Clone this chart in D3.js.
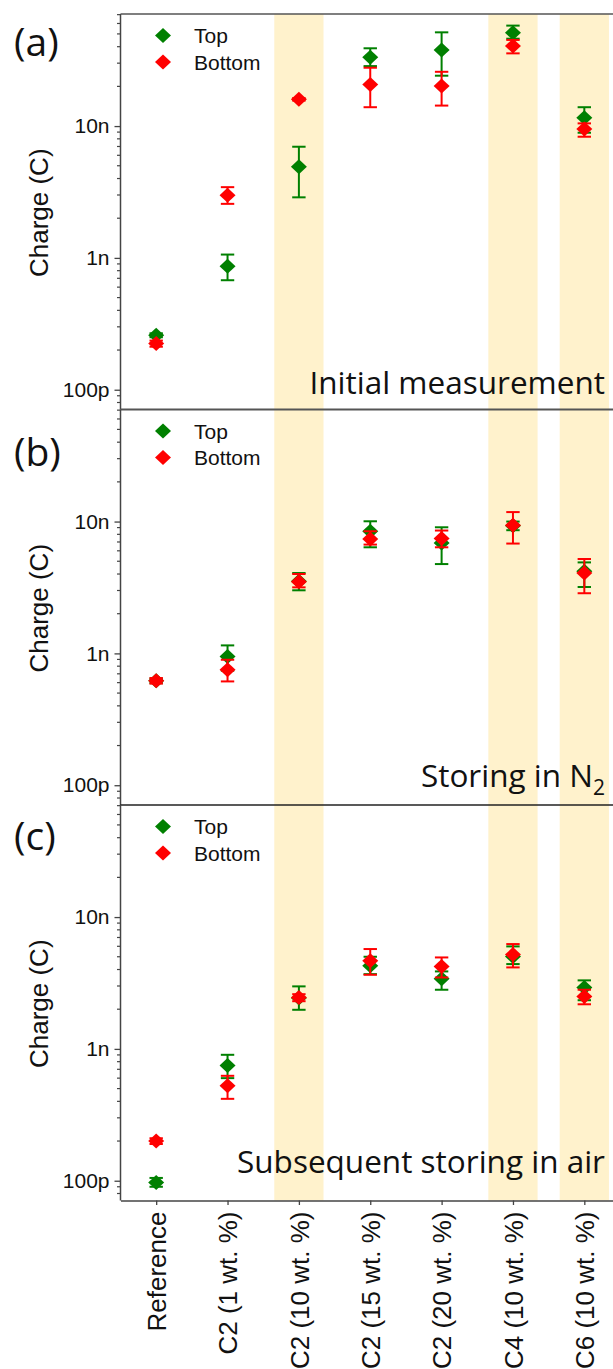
<!DOCTYPE html>
<html>
<head>
<meta charset="utf-8">
<script src="https://cdn.jsdelivr.net/npm/d3@7"></script>
<style>
  body { margin: 0; background: #fff; }
  svg { display: block; }
</style>
</head>
<body>
<div id="chart-area"></div>
<script>
var categories = ["Reference", "C2 (1 wt. %)", "C2 (10 wt. %)", "C2 (15 wt. %)", "C2 (20 wt. %)", "C4 (10 wt. %)", "C6 (10 wt. %)"];
var highlighted = ["C2 (10 wt. %)", "C4 (10 wt. %)", "C6 (10 wt. %)"];
var yTickValues = [1e-10, 1e-9, 1e-8];
var yTickLabels = ["100p", "1n", "10n"];
var seriesNames = ["Top", "Bottom"];
var panelLetters = ["(a)", "(b)", "(c)"];

// [value, lower, upper] per category, in coulomb
var initialTop = [[2.59e-10, 2.5e-10, 2.68e-10], [8.65e-10, 6.77e-10, 1.06e-9], [4.91e-9, 2.88e-9, 6.97e-9], [3.32e-8, 2.85e-8, 3.89e-8], [3.78e-8, 2.41e-8, 5.14e-8], [5.11e-8, 4.6e-8, 5.78e-8], [1.156e-8, 8.9e-9, 1.39e-8]];
var initialBottom = [[2.24e-10, 2.12e-10, 2.36e-10], [2.99e-9, 2.57e-9, 3.44e-9], [1.595e-8, 1.56e-8, 1.63e-8], [2.07e-8, 1.39e-8, 2.77e-8], [2.01e-8, 1.43e-8, 2.58e-8], [4.05e-8, 3.56e-8, 4.5e-8], [9.49e-9, 8.3e-9, 1.048e-8]];
var n2Top = [[6.21e-10, 5.95e-10, 6.45e-10], [9.48e-10, 7.39e-10, 1.15e-9], [3.52e-9, 3.01e-9, 4.07e-9], [8.44e-9, 6.38e-9, 1.005e-8], [6.88e-9, 4.76e-9, 9.05e-9], [9.3e-9, 8.6e-9, 1.0e-8], [4.2e-9, 3.19e-9, 4.9e-9]];
var n2Bottom = [[6.21e-10, 5.9e-10, 6.5e-10], [7.52e-10, 6.13e-10, 8.95e-10], [3.5e-9, 3.17e-9, 4.0e-9], [7.38e-9, 6.69e-9, 8.44e-9], [7.43e-9, 6.38e-9, 8.55e-9], [9.38e-9, 6.81e-9, 1.18e-8], [4.07e-9, 2.86e-9, 5.2e-9]];
var airTop = [[9.68e-11, 9.0e-11, 1.05e-10], [7.48e-10, 6.0e-10, 9.02e-10], [2.43e-9, 1.98e-9, 2.98e-9], [4.28e-9, 3.69e-9, 5.0e-9], [3.41e-9, 2.81e-9, 3.87e-9], [5.03e-9, 4.4e-9, 5.99e-9], [2.92e-9, 2.34e-9, 3.31e-9]];
var airBottom = [[2.0e-10, 1.9e-10, 2.1e-10], [5.25e-10, 4.18e-10, 6.25e-10], [2.45e-9, 2.3e-9, 2.6e-9], [4.67e-9, 3.65e-9, 5.72e-9], [4.22e-9, 3.48e-9, 4.94e-9], [5.19e-9, 4.15e-9, 6.24e-9], [2.5e-9, 2.18e-9, 2.81e-9]];

var panels = [
    { top: initialTop, bottom: initialBottom, title: "Initial measurement" },
    { top: n2Top, bottom: n2Bottom, title: "Storing in N", sub: "2" },
    { top: airTop, bottom: airBottom, title: "Subsequent storing in air" }
];

var w = 613, h = 1369;
var left = 120.5, right = 620;
var panelTops = [14, 409.5, 805];
var panelH = 395.5;
var colors = { Top: "#008000", Bottom: "#ff0000" };
var axisColor = "#444";

var svg = d3.select("#chart-area")
    .append("svg")
    .attr("width", w)
    .attr("height", h);

var xScale = d3.scaleLinear()
    .domain([-0.5, 6.5])
    .range([left, right]);

var diamond = "M0,-7.5L8,0L0,7.5L-8,0Z";

// highlight bands through all three panels
svg.selectAll("rect.band")
    .data(highlighted)
    .enter()
    .append("rect")
    .attr("class", "band")
    .attr("x", function (d) { return xScale(categories.indexOf(d) - 0.345); })
    .attr("width", function () { return xScale(0.345) - xScale(-0.345); })
    .attr("y", panelTops[0])
    .attr("height", panelTops[2] + panelH - panelTops[0])
    .attr("fill", "#fff2cc");

panels.forEach(function (p, i) {
    var y0 = panelTops[i];
    var yScale = d3.scaleLog()
        .domain([7.08e-11, 7.08e-8])
        .range([y0 + panelH, y0]);

    var g = svg.append("g");

    // horizontal frame lines
    g.append("line")
        .attr("x1", left).attr("x2", w)
        .attr("y1", y0).attr("y2", y0)
        .attr("stroke", i == 2 ? "#222" : "#555")
        .attr("stroke-width", i == 0 ? 1.5 : (i == 1 ? 2.2 : 1.3));

    // minor ticks
    var minor = yScale.ticks().filter(function (t) { return yTickValues.indexOf(t) < 0; });
    g.selectAll("line.minor")
        .data(minor)
        .enter()
        .append("line")
        .attr("x1", left - 3.5).attr("x2", left)
        .attr("y1", function (d) { return yScale(d); })
        .attr("y2", function (d) { return yScale(d); })
        .attr("stroke", axisColor)
        .attr("stroke-width", 1.2);

    var yAxis = d3.axisLeft(yScale)
        .tickValues(yTickValues)
        .tickFormat(function (d, k) { return yTickLabels[k]; })
        .tickSize(6)
        .tickPadding(5);

    var ax = g.append("g")
        .attr("transform", "translate(" + left + ",0)")
        .call(yAxis);
    ax.select(".domain").remove();
    ax.selectAll(".tick line").attr("stroke", axisColor).attr("stroke-width", 1.3);
    ax.selectAll(".tick text")
        .attr("font-family", "Liberation Sans, Arial, sans-serif")
        .attr("font-size", "21px")
        .attr("fill", "#111");

    g.append("line")
        .attr("x1", left).attr("x2", left)
        .attr("y1", y0).attr("y2", y0 + panelH)
        .attr("stroke", axisColor)
        .attr("stroke-width", 1.5);

    g.append("text")
        .attr("transform", "translate(48," + (y0 + panelH / 2 + 1) + ") rotate(-90)")
        .attr("text-anchor", "middle")
        .attr("font-family", "Liberation Sans, Arial, sans-serif")
        .attr("font-size", "26px")
        .attr("fill", "#111")
        .text("Charge (C)");

    var letterY = [56, 466, 850];
    g.append("text")
        .attr("x", 14)
        .attr("y", letterY[i])
        .attr("font-family", "Open Sans, sans-serif")
        .attr("font-size", "39px")
        .attr("fill", "#111")
        .text(panelLetters[i]);

    // legend
    seriesNames.forEach(function (s, k) {
        var ly = y0 + 21.5 + k * 26.5;
        g.append("path")
            .attr("d", diamond)
            .attr("transform", "translate(163," + ly + ")")
            .attr("fill", colors[s]);
        g.append("text")
            .attr("x", 194)
            .attr("y", ly + 7.5)
            .attr("font-family", "Liberation Sans, Arial, sans-serif")
            .attr("font-size", "21px")
            .attr("fill", "#111")
            .text(s);
    });

    var title = g.append("text")
        .attr("x", 605)
        .attr("y", [393.5, 787, 1173][i])
        .attr("text-anchor", "end")
        .attr("font-family", "Open Sans, sans-serif")
        .attr("font-size", "31.5px")
        .attr("fill", "#111")
        .text(p.title);
    if (p.sub) {
        title.append("tspan")
            .attr("font-size", "21px")
            .attr("dy", 8)
            .text(p.sub);
    }

    [["Top", p.top], ["Bottom", p.bottom]].forEach(function (pair) {
        var c = colors[pair[0]];
        var data = pair[1];
        var eg = g.append("g").attr("stroke", c).attr("stroke-width", 2).attr("fill", "none");
        eg.selectAll("line.bar")
            .data(data)
            .enter()
            .append("line")
            .attr("x1", function (d, k) { return xScale(k); })
            .attr("x2", function (d, k) { return xScale(k); })
            .attr("y1", function (d) { return yScale(d[1]); })
            .attr("y2", function (d) { return yScale(d[2]); });
        [1, 2].forEach(function (e) {
            eg.selectAll("line.cap" + e)
                .data(data)
                .enter()
                .append("line")
                .attr("x1", function (d, k) { return xScale(k) - 6.7; })
                .attr("x2", function (d, k) { return xScale(k) + 6.7; })
                .attr("y1", function (d) { return yScale(d[e]); })
                .attr("y2", function (d) { return yScale(d[e]); });
        });
        g.selectAll("path.pt" + pair[0])
            .data(data)
            .enter()
            .append("path")
            .attr("d", diamond)
            .attr("transform", function (d, k) { return "translate(" + xScale(k) + "," + yScale(d[0]) + ")"; })
            .attr("fill", c);
    });
});

// bottom category axis
var yBottom = panelTops[2] + panelH;
var xAxis = d3.axisBottom(xScale)
    .tickValues(d3.range(categories.length))
    .tickFormat(function (d) { return categories[d]; })
    .tickSize(4.5)
    .tickSizeOuter(0);

var xg = svg.append("g")
    .attr("transform", "translate(0," + yBottom + ")")
    .call(xAxis);
xg.select(".domain").attr("stroke", axisColor).attr("stroke-width", 1.5);
xg.selectAll(".tick line").attr("stroke", axisColor).attr("stroke-width", 1.3);
xg.selectAll(".tick text")
    .attr("font-family", "Liberation Sans, Arial, sans-serif")
    .attr("font-size", "26px")
    .attr("fill", "#111")
    .attr("text-anchor", "end")
    .attr("transform", "rotate(-90)")
    .attr("x", -11)
    .attr("y", 0)
    .attr("dy", "0.36em");
</script>
</body>
</html>
